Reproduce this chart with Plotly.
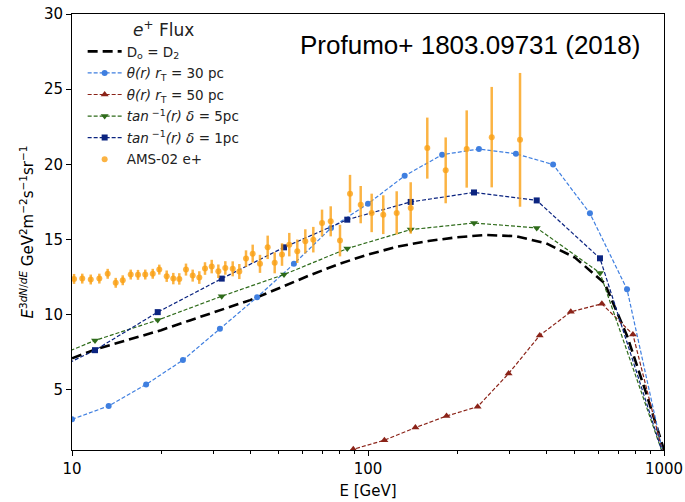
import plotly.graph_objects as go

# ---------------- data ----------------
# D0 = D2 (black dashed, no markers)
black_E = [10, 12, 16, 20, 25, 32, 40, 50, 63, 80, 100, 126, 160, 200, 250, 316, 400, 500, 630, 750, 870, 1000]
black_v = [7.1, 7.69, 8.41, 8.97, 9.62, 10.34, 10.97, 11.76, 12.59, 13.38, 14.0, 14.53, 14.9, 15.15, 15.3, 15.22,
           14.75, 13.8, 12.1, 8.6, 4.8, 1.0]

# theta(r) rT = 30 pc (light blue circles)
blue_E = [10, 13.3, 17.8, 23.7, 31.6, 42.2, 56.2, 75.0, 100, 133, 178, 237, 316, 422, 562, 750, 1000]
blue_v = [3.04, 3.93, 5.36, 6.98, 9.06, 11.16, 13.38, 15.77, 17.38, 19.24, 20.64, 21.02, 20.70, 19.99, 16.74,
          11.69, 0.5]

# theta(r) rT = 50 pc (dark red triangles)
red_E = [70.0, 89.2, 113.6, 144.6, 184.2, 234.6, 298.5, 380.3, 484.3, 616.8, 785.1, 1000]
red_v = [0.3, 1.05, 1.65, 2.49, 3.26, 3.88, 6.08, 8.62, 10.19, 10.72, 8.69, 0.5]

# tan^-1(r) grids
tan_E = [7.31, 11.96, 19.48, 32.05, 52.03, 85.1, 139.4, 228.1, 371.5, 607.7, 1000]
green_v = [6.55, 8.29, 9.64, 11.23, 12.67, 14.40, 15.66, 16.10, 15.77, 12.78, 0.5]
navy_v = [5.6, 7.64, 10.17, 12.40, 14.48, 16.32, 17.50, 18.13, 17.60, 13.75, 0.5]

# AMS-02 e+
ams_E = [10.16, 10.83, 11.57, 12.37, 13.20, 14.05, 14.84, 15.79, 16.71, 17.68,
         18.74, 19.72, 20.89, 21.99, 23.04, 24.27, 25.57, 26.92, 28.14, 29.65,
         31.22, 32.96, 34.91, 36.75, 38.71, 40.78, 43.16, 45.82, 48.39, 51.23,
         54.21, 57.69, 61.41, 65.35, 69.94, 74.82, 80.43, 86.95, 94.48, 102.9,
         112.6, 125.0, 139.4, 158.6, 183.0, 215.5, 261.8, 326.3]
ams_v = [12.38, 12.40, 12.34, 12.40, 12.72, 12.12, 12.29, 12.67, 12.65, 12.67,
         12.72, 13.0, 12.56, 12.40, 12.38, 13.0, 12.60, 12.47, 13.07, 13.20,
         12.89, 13.11, 13.05, 12.87, 13.73, 14.06, 13.38, 14.48, 13.45, 14.0,
         14.66, 14.22, 14.88, 14.99, 16.10, 16.21, 14.93, 18.05, 17.32, 16.77,
         16.65, 16.77, 17.10, 21.08, 19.60, 21.02, 21.81, 21.63]
ams_err = [0.33] * 12 + [0.38, 0.38, 0.38, 0.40, 0.40, 0.42, 0.42, 0.45, 0.45, 0.45, 0.50, 0.50,
                         0.55, 0.60, 0.60, 0.78, 0.70, 0.75, 0.78, 0.78, 0.80, 0.85, 0.89, 1.00, 1.05,
                         1.25, 1.24, 1.28, 1.29, 1.44, 1.71, 2.03, 2.19, 2.57, 3.34, 4.45]

x_ticks = [10, 100, 1000]
x_minor = [20, 30, 40, 50, 60, 70, 80, 90, 200, 300, 400, 500, 600, 700, 800, 900]
y_ticks = [5, 10, 15, 20, 25, 30]

# ---------------- figure ----------------
FONT = "DejaVu Sans"
fig = go.Figure()

fig.add_trace(go.Scatter(x=black_E, y=black_v, mode="lines", name="D<sub>o</sub> = D<sub>2</sub>",
                         legendgroup="a",
                         line=dict(color="black", width=2.6, dash="10px,5px")))
fig.add_trace(go.Scatter(x=blue_E, y=blue_v, mode="lines+markers",
                         name="<i>θ(r) r</i><sub>T</sub> = 30 pc", legendgroup="b",
                         line=dict(color="#3f7fe0", width=1.2, dash="4px,2px"),
                         marker=dict(symbol="circle", size=6, color="#3f7fe0")))
fig.add_trace(go.Scatter(x=red_E, y=red_v, mode="lines+markers",
                         name="<i>θ(r) r</i><sub>T</sub> = 50 pc", legendgroup="c",
                         line=dict(color="#8b2318", width=1.2, dash="4px,2px"),
                         marker=dict(symbol="triangle-up", size=7, color="#8b2318")))
fig.add_trace(go.Scatter(x=tan_E, y=green_v, mode="lines+markers",
                         name="<i>tan</i><sup> −1</sup><i>(r) δ</i> = 5pc", legendgroup="d",
                         line=dict(color="#2e6b1a", width=1.2, dash="4px,2px"),
                         marker=dict(symbol="triangle-down", size=7, color="#2e6b1a")))
fig.add_trace(go.Scatter(x=tan_E, y=navy_v, mode="lines+markers",
                         name="<i>tan</i><sup> −1</sup><i>(r) δ</i> = 1pc", legendgroup="e",
                         line=dict(color="#0b2480", width=1.2, dash="4px,2px"),
                         marker=dict(symbol="square", size=6, color="#0b2480")))
fig.add_trace(go.Scatter(x=ams_E, y=ams_v, mode="markers", name="AMS-02 e+", legendgroup="f",
                         marker=dict(symbol="circle", size=6, color="rgba(250,160,20,0.8)"),
                         error_y=dict(type="data", array=ams_err, visible=True, thickness=2.5, width=0,
                                      color="rgba(250,160,20,0.8)")))

fig.add_annotation(text="Profumo+ 1803.09731 (2018)", xref="paper", yref="paper",
                   x=0.672, y=0.929, xanchor="center", yanchor="middle", showarrow=False,
                   font=dict(family="Liberation Sans", size=26, color="black"))

fig.update_layout(
    width=685, height=502,
    margin=dict(l=72, r=21, t=14, b=52),
    paper_bgcolor="white", plot_bgcolor="white",
    font=dict(family=FONT, size=14, color="black"),
    showlegend=True,
    legend=dict(x=0.018, y=1.0, xanchor="left", yanchor="top",
                bgcolor="rgba(0,0,0,0)", borderwidth=0,
                font=dict(family=FONT, size=13.5, color="#222"),
                title=dict(text="<i>e</i><sup>+</sup> Flux", side="top center",
                           font=dict(family=FONT, size=17)),
                tracegroupgap=1, itemwidth=34),
    xaxis=dict(type="log", range=[1, 3], tickvals=x_ticks, ticktext=["10", "100", "1000"],
               automargin=False,
               ticks="outside", ticklen=5, tickwidth=1, tickcolor="black",
               minor=dict(tickvals=x_minor, ticks="outside", ticklen=3, tickwidth=1, tickcolor="black",
                          showgrid=False),
               showline=True, linecolor="black", linewidth=1, mirror=True,
               showgrid=False, zeroline=False,
               tickfont=dict(family=FONT, size=15),
               title=dict(text="E [GeV]", font=dict(family=FONT, size=15), standoff=8)),
    yaxis=dict(range=[1, 30], tickvals=y_ticks, automargin=False,
               ticks="outside", ticklen=5, tickwidth=1, tickcolor="black",
               showline=True, linecolor="black", linewidth=1, mirror=True,
               showgrid=False, zeroline=False,
               tickfont=dict(family=FONT, size=15),
               title=dict(text="<i>E</i><sup>3<i>dN</i>/<i>dE</i></sup> GeV<sup>2</sup>m<sup>−2</sup>s<sup>−1</sup>sr<sup>−1</sup>",
                          font=dict(family=FONT, size=15), standoff=6)),
)

fig.write_html("out.html")
